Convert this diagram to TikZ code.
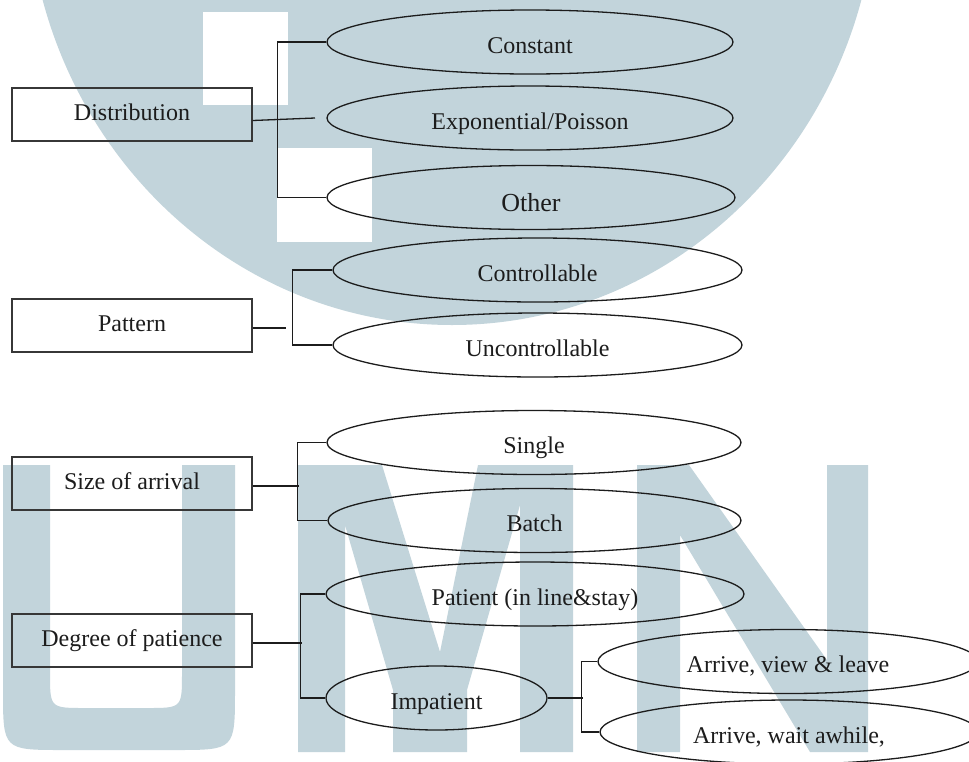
\documentclass[tikz,border=0pt]{standalone}
\usepackage{fontspec}
\setmainfont{Liberation Serif}
\usetikzlibrary{shapes.geometric}

\definecolor{wm}{RGB}{194,212,219}
\definecolor{ink}{RGB}{28,28,28}
\definecolor{boxline}{RGB}{55,55,55}

\tikzset{
  catbox/.style={draw=boxline, line width=0.65pt, rectangle, inner sep=0pt,
    minimum width=120pt, minimum height=26.5pt, text=ink,
    text height=6pt, text depth=0pt,
    font=\fontsize{12}{14}\selectfont},
  choice/.style={draw=ink, line width=0.65pt, ellipse, inner sep=0pt,
    minimum height=32pt, text=ink, text height=11pt, text depth=0pt,
    font=\fontsize{12}{14}\selectfont},
  link/.style={draw=ink, line width=0.65pt},
}

\begin{document}
\begin{tikzpicture}[x=0.5pt,y=-0.5pt]
\useasboundingbox (0,0) rectangle (969,761);
\begin{scope}
\clip (0,0) rectangle (969,761);
\fill[white] (0,0) rectangle (969,761);

% background emblem: top bowl with two cut-out squares
\fill[wm] (452,-120) ellipse [x radius=212.5pt, y radius=222.5pt];
\fill[white] (203,12) rectangle (288,105);
\fill[white] (277,148) rectangle (372,242);

% background letters U, M, N
\fill[wm] (3,465) -- (3,690) .. controls (3,750) .. (63,750) -- (175,750)
  .. controls (235,750) .. (235,690) -- (235,465) -- (182,465) -- (182,673)
  .. controls (182,708) .. (147,708) -- (85,708) .. controls (50,708) .. (50,673)
  -- (50,465) -- cycle;
\fill[wm] (298,465) -- (382,465) -- (440,652) -- (478,465) -- (573,465)
  -- (573,752) -- (520,752) -- (520,505) -- (467,690) -- (467,752)
  -- (393,752) -- (393,690) -- (345,525) -- (345,752) -- (298,752) -- cycle;
\fill[wm] (637,465) -- (689,465) -- (827,660) -- (827,465) -- (868,465)
  -- (868,752) -- (810,752) -- (680,535) -- (680,752) -- (637,752) -- cycle;
\end{scope}

% category boxes
\node[catbox] (dist) at (132,114.5) {Distribution};
\node[catbox] (patt) at (132,325.5) {Pattern};
\node[catbox] (size) at (132,483.5) {Size of arrival};
\node[catbox] (deg)  at (132,640.5) {Degree of patience};

% distribution choices
\node[choice, minimum width=203pt] (cst) at (530,42) {Constant};
\node[choice, minimum width=203pt] (exp) at (530,118) {Exponential/Poisson};
\node[choice, minimum width=204pt, text height=14pt,
      font=\fontsize{13}{15}\selectfont] (oth) at (531,197.5) {Other};

% pattern choices
\node[choice, minimum width=204.5pt] (ctl) at (537.5,270) {Controllable};
\node[choice, minimum width=204.5pt] (unc) at (537.5,345) {Uncontrollable};

% size choices
\node[choice, minimum width=207pt] (sgl) at (534,442.5) {Single};
\node[choice, minimum width=206.5pt] (bat) at (534.5,520.5) {Batch};

% patience choices
\node[choice, minimum width=209pt] (ptn) at (535,594) {Patient (in line\&stay)};
\node[choice, minimum width=110.5pt] (imp) at (436.5,698) {Impatient};
\node[choice, minimum width=190pt] (avl) at (788,661.5) {Arrive, view \& leave};
\node[choice, minimum width=189pt] (aww) at (789,732) {Arrive, wait awhile,};

% connectors
\coordinate (dgap) at (315,118);
\draw[link] ([yshift=-3pt]dist.east) -- (dgap);
\draw[link] (cst.west) -- ++(-49,0) |- (oth.west);

\draw[link] ([yshift=-1.25pt]patt.east) -- ++(33,0);
\draw[link] (ctl.west) -- ++(-40,0) |- (unc.west);

\draw[link] ([yshift=-1.25pt]size.east) -- ++(46,0);
\draw[link] (sgl.west) -- ++(-29,0) |- (bat.west);

\draw[link] ([yshift=-1.25pt]deg.east) -- ++(49,0);
\draw[link] (ptn.west) -- ++(-25,0) |- (imp.west);

\draw[link] (imp.east) -- ++(35,0);
\draw[link] (avl.west) -- ++(-16,0) |- (aww.west);
\end{tikzpicture}
\end{document}
